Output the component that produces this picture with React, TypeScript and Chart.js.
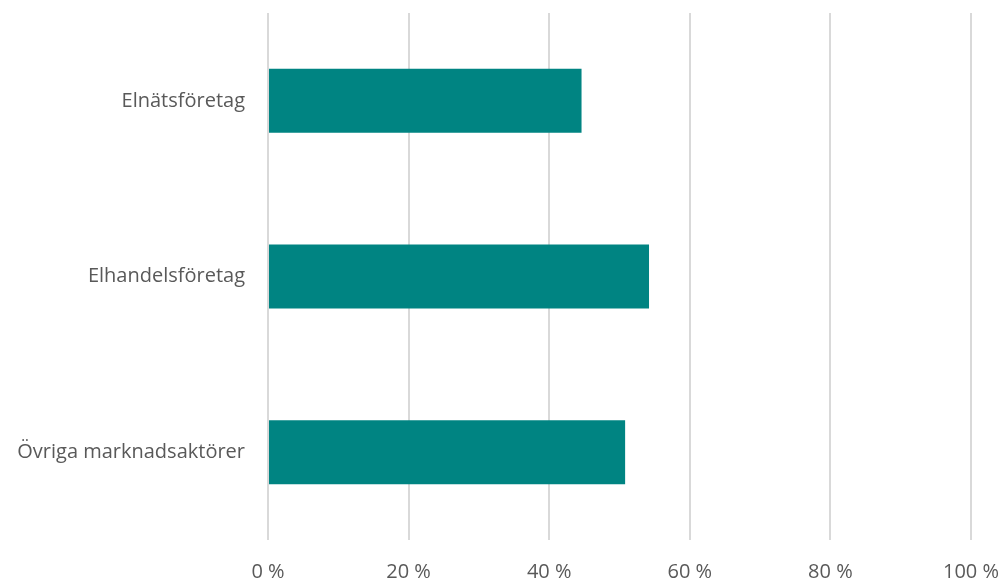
import React, { useEffect, useRef } from "react";
import { Chart, registerables } from "chart.js";

Chart.register(...registerables);

const categories = ["Elnätsföretag", "Elhandelsföretag", "Övriga marknadsaktörer"];
const values = [44.6, 54.2, 50.8];
const xTicks = [0, 20, 40, 60, 80, 100];

function zeroPad(axis: any) {
  axis.paddingTop = 0;
  axis.paddingBottom = 0;
  axis.paddingLeft = 0;
  axis.paddingRight = 0;
}

export default function App() {
  const ref = useRef<HTMLCanvasElement | null>(null);
  useEffect(() => {
    if (!ref.current) return;
    const font = { family: "'Open Sans', 'Liberation Sans', sans-serif", size: 20 };
    const chart = new Chart(ref.current, {
      type: "bar",
      data: {
        labels: categories,
        datasets: [
          {
            data: values,
            backgroundColor: "#008482",
            borderWidth: 0,
            barPercentage: 0.364,
            categoryPercentage: 1,
          },
        ],
      },
      options: {
        indexAxis: "y",
        animation: false,
        responsive: false,
        maintainAspectRatio: false,
        layout: { padding: { top: 13, right: 31, left: 0, bottom: 0 } },
        plugins: { legend: { display: false }, tooltip: { enabled: false } },
        scales: {
          x: {
            min: 0,
            max: 100,
            afterBuildTicks: (axis: any) => {
              axis.ticks = xTicks.map((v) => ({ value: v }));
            },
            afterFit: (axis: any) => {
              axis.height = 40;
              zeroPad(axis);
            },
            grid: { color: "#d9d9d9", lineWidth: 2, drawTicks: false },
            border: { display: false },
            ticks: {
              color: "#595959",
              font,
              padding: 20,
              maxRotation: 0,
              callback: (v: any) => `${v} %`,
            },
          },
          y: {
            afterFit: (axis: any) => {
              axis.width = 268;
              zeroPad(axis);
            },
            grid: { display: false, drawTicks: false },
            border: { display: false },
            ticks: { color: "#595959", font, padding: 23 },
          },
        },
      },
    });
    return () => chart.destroy();
  }, []);
  return (
    <div style={{ position: "fixed", left: 0, top: 0, width: 1002, height: 580, background: "#fff" }}>
      <canvas ref={ref} width={1002} height={580} style={{ width: 1002, height: 580 }} />
    </div>
  );
}
